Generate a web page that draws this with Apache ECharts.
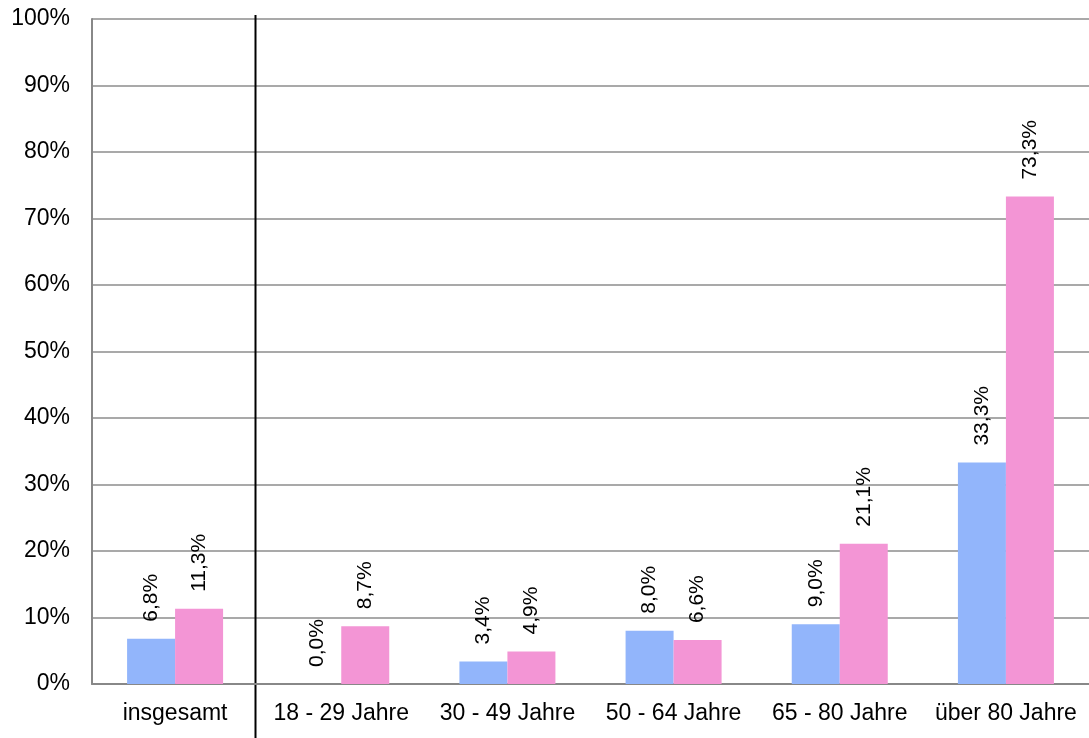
<!DOCTYPE html>
<html>
<head>
<meta charset="utf-8">
<script src="https://cdn.jsdelivr.net/npm/echarts@6/dist/echarts.min.js"></script>
<style>
html,body{margin:0;padding:0;background:#fff;}
#c{width:1089px;height:738px;}
</style>
</head>
<body>
<div id="c"></div>
<script>
const categories = ['insgesamt', '18 - 29 Jahre', '30 - 49 Jahre', '50 - 64 Jahre', '65 - 80 Jahre', 'über 80 Jahre'];
const seriesBlue = [6.8, 0.0, 3.4, 8.0, 9.0, 33.3];
const seriesPink = [11.3, 8.7, 4.9, 6.6, 21.1, 73.3];
const yTicks = [0, 10, 20, 30, 40, 50, 60, 70, 80, 90, 100];

const font = 'Liberation Sans, Arial, sans-serif';
const fmt = v => v.toFixed(1).replace('.', ',') + '%';

const labelCfg = {
  show: true,
  position: 'top',
  rotate: 90,
  align: 'left',
  verticalAlign: 'middle',
  distance: 17,
  fontFamily: font,
  fontSize: 21,
  color: '#000',
  formatter: p => fmt(p.value)
};

const chart = echarts.init(document.getElementById('c'), null, {renderer: 'canvas'});
chart.setOption({
  animation: false,
  backgroundColor: '#fff',
  grid: {left: 92, top: 19, width: 1009, height: 665, containLabel: false},
  xAxis: {
    type: 'category',
    data: categories,
    axisLine: {show: true, lineStyle: {color: '#888', width: 2}},
    axisTick: {show: false},
    axisLabel: {color: '#000', fontFamily: font, fontSize: 23, margin: 18, interval: 0}
  },
  yAxis: {
    type: 'value',
    min: yTicks[0],
    max: yTicks[yTicks.length - 1],
    interval: 10,
    axisLine: {show: true, lineStyle: {color: '#888', width: 2}},
    axisTick: {show: false},
    splitLine: {show: true, lineStyle: {color: '#8c8c8c', width: 1.5}},
    axisLabel: {color: '#000', fontFamily: font, fontSize: 23, margin: 22, formatter: v => v + '%'}
  },
  series: [
    {type: 'bar', data: seriesBlue, barWidth: 48, barGap: '0%', itemStyle: {color: '#92b5fb'}, label: labelCfg},
    {type: 'bar', data: seriesPink, barWidth: 48, barGap: '0%', itemStyle: {color: '#f395d5'}, label: labelCfg}
  ]
});

const p0 = chart.convertToPixel({xAxisIndex: 0}, categories[0]);
const p1 = chart.convertToPixel({xAxisIndex: 0}, categories[1]);
const sx = Math.round((p0 + p1) / 2) - 2.5;
chart.setOption({
  graphic: [{
    type: 'line',
    shape: {x1: sx, y1: 15, x2: sx, y2: 738},
    style: {stroke: '#000', lineWidth: 2}
  }]
});
</script>
</body>
</html>
